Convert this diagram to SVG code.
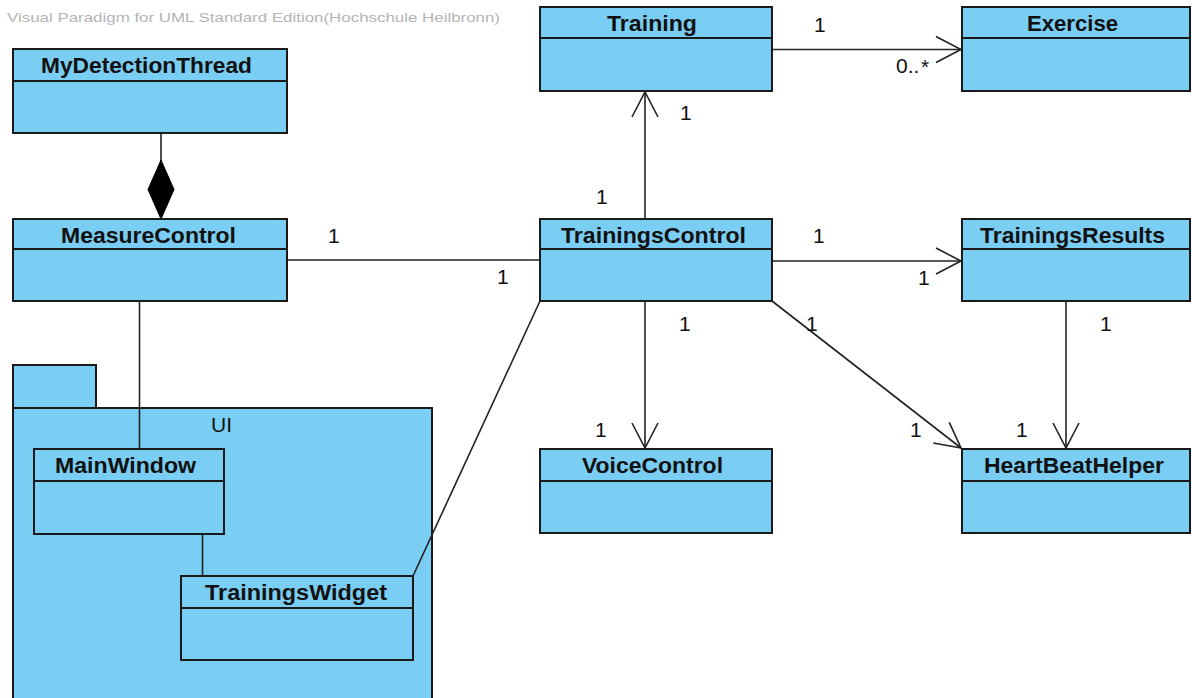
<svg xmlns="http://www.w3.org/2000/svg" width="1192" height="698" viewBox="0 0 1192 698">
<style>
.box{fill:#7acdf3;stroke:#1a1a1a;stroke-width:2}
.div{stroke:#1a1a1a;stroke-width:2}
.name{font-family:"Liberation Sans",Arial,sans-serif;font-weight:bold;font-size:22px;fill:#111}
.lbl{font-family:"Liberation Sans",Arial,sans-serif;font-size:21px;fill:#111}
.conn{stroke:#222;stroke-width:1.6;fill:none}
.wm{font-family:"Liberation Sans",Arial,sans-serif;font-size:13.5px;fill:#b4b4b4}
</style>
<defs>
<marker id="arr" markerUnits="userSpaceOnUse" viewBox="-28 -15 30 30" markerWidth="30" markerHeight="30" refX="0" refY="0" orient="auto">
<path d="M-25,-13 L0,0 L-25,13" fill="none" stroke="#222" stroke-width="1.6"/>
</marker>
</defs>
<rect width="1192" height="698" fill="#fff"/>
<text class="wm" x="7" y="22" textLength="493" lengthAdjust="spacingAndGlyphs">Visual Paradigm for UML Standard Edition(Hochschule Heilbronn)</text>

<g id="UI">
<rect class="box" x="13" y="365" width="83" height="43"/>
<rect class="box" x="13" y="408" width="419" height="300"/>
<text class="lbl" x="211" y="432">UI</text>
</g>

<g id="connectors">
<line class="conn" x1="161" y1="133" x2="161" y2="162"/>
<path d="M161,160 L148,189.5 L161,219 L174,189.5 Z" fill="#000" stroke="#000" stroke-width="1"/>
<line class="conn" x1="287" y1="260" x2="540" y2="260"/>
<line class="conn" x1="645" y1="219" x2="645" y2="92" marker-end="url(#arr)"/>
<line class="conn" x1="772" y1="49.5" x2="961" y2="49.5" marker-end="url(#arr)"/>
<line class="conn" x1="772" y1="261" x2="961" y2="261" marker-end="url(#arr)"/>
<line class="conn" x1="645" y1="301" x2="645" y2="448" marker-end="url(#arr)"/>
<line class="conn" x1="772" y1="301" x2="961" y2="448" marker-end="url(#arr)"/>
<line class="conn" x1="1066" y1="301" x2="1066" y2="448" marker-end="url(#arr)"/>
<line class="conn" x1="139.5" y1="301" x2="139.5" y2="449"/>
<line class="conn" x1="202.5" y1="534" x2="202.5" y2="576"/>
<line class="conn" x1="540" y1="301" x2="413" y2="576"/>
<text class="lbl" x="814" y="32">1</text>
<text class="lbl" x="896" y="73">0..</text>
<text class="lbl" x="921" y="74" font-size="15">*</text>
<text class="lbl" x="680" y="120">1</text>
<text class="lbl" x="596" y="204">1</text>
<text class="lbl" x="328" y="243">1</text>
<text class="lbl" x="497" y="284">1</text>
<text class="lbl" x="813" y="243">1</text>
<text class="lbl" x="918" y="285">1</text>
<text class="lbl" x="679" y="331">1</text>
<text class="lbl" x="595" y="437">1</text>
<text class="lbl" x="806" y="331">1</text>
<text class="lbl" x="910" y="437">1</text>
<text class="lbl" x="1100" y="331">1</text>
<text class="lbl" x="1016" y="437">1</text>
</g>

<g id="MyDetectionThread">
<rect class="box" x="13" y="49" width="274" height="84"/>
<line class="div" x1="13" y1="81" x2="287" y2="81"/>
<text class="name" x="41" y="73" textLength="211" lengthAdjust="spacingAndGlyphs">MyDetectionThread</text>
</g>
<g id="Training">
<rect class="box" x="540" y="7" width="232" height="84"/>
<line class="div" x1="540" y1="38" x2="772" y2="38"/>
<text class="name" x="607" y="31" textLength="90" lengthAdjust="spacingAndGlyphs">Training</text>
</g>
<g id="Exercise">
<rect class="box" x="962" y="7" width="228" height="84"/>
<line class="div" x1="962" y1="38" x2="1190" y2="38"/>
<text class="name" x="1027" y="31" textLength="91" lengthAdjust="spacingAndGlyphs">Exercise</text>
</g>
<g id="MeasureControl">
<rect class="box" x="13" y="219" width="274" height="82"/>
<line class="div" x1="13" y1="249" x2="287" y2="249"/>
<text class="name" x="61" y="243" textLength="175" lengthAdjust="spacingAndGlyphs">MeasureControl</text>
</g>
<g id="TrainingsControl">
<rect class="box" x="540" y="219" width="232" height="82"/>
<line class="div" x1="540" y1="249" x2="772" y2="249"/>
<text class="name" x="561" y="243" textLength="185" lengthAdjust="spacingAndGlyphs">TrainingsControl</text>
</g>
<g id="TrainingsResults">
<rect class="box" x="962" y="219" width="228" height="82"/>
<line class="div" x1="962" y1="249" x2="1190" y2="249"/>
<text class="name" x="980" y="243" textLength="185" lengthAdjust="spacingAndGlyphs">TrainingsResults</text>
</g>
<g id="VoiceControl">
<rect class="box" x="540" y="449" width="232" height="84"/>
<line class="div" x1="540" y1="481" x2="772" y2="481"/>
<text class="name" x="582" y="473" textLength="141" lengthAdjust="spacingAndGlyphs">VoiceControl</text>
</g>
<g id="HeartBeatHelper">
<rect class="box" x="962" y="449" width="228" height="84"/>
<line class="div" x1="962" y1="481" x2="1190" y2="481"/>
<text class="name" x="984" y="473" textLength="180" lengthAdjust="spacingAndGlyphs">HeartBeatHelper</text>
</g>
<g id="MainWindow">
<rect class="box" x="34" y="449" width="190" height="85"/>
<line class="div" x1="34" y1="481" x2="224" y2="481"/>
<text class="name" x="55" y="473" textLength="141" lengthAdjust="spacingAndGlyphs">MainWindow</text>
</g>
<g id="TrainingsWidget">
<rect class="box" x="181" y="576" width="232" height="84"/>
<line class="div" x1="181" y1="608" x2="413" y2="608"/>
<text class="name" x="205" y="600" textLength="182" lengthAdjust="spacingAndGlyphs">TrainingsWidget</text>
</g>
</svg>
